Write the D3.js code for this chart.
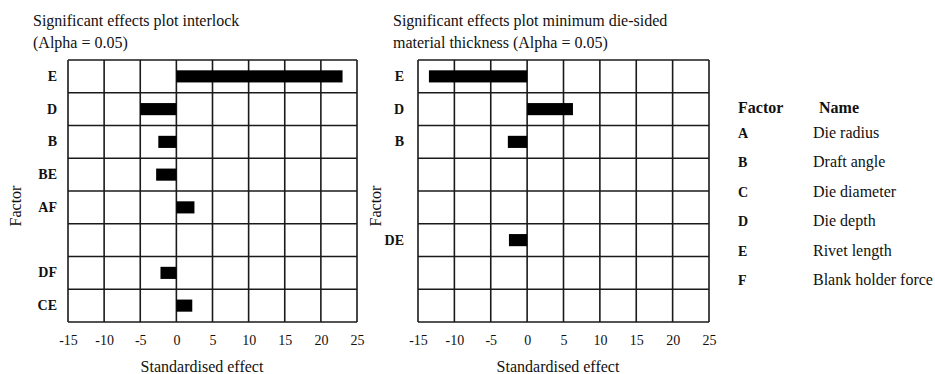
<!DOCTYPE html>
<html><head><meta charset="utf-8">
<script src="https://cdn.jsdelivr.net/npm/d3@7"></script>
<style>
body{margin:0;background:#fff;}
svg text{font-family:"Liberation Serif","Times New Roman",serif;fill:#111;}
</style></head>
<body>
<svg id="c" width="935" height="374"></svg>
<script>
// ---- data ----
const xTicks = [-15, -10, -5, 0, 5, 10, 15, 20, 25];
const leftFactors = ["E", "D", "B", "BE", "AF", "", "DF", "CE"];
const leftEffects = [23, -5.0, -2.5, -2.8, 2.5, null, -2.2, 2.2];
const rightFactors = ["E", "D", "B", "", "", "DE", "", ""];
const rightEffects = [-13.5, 6.3, -2.65, null, null, -2.5, null, null];
const legendCodes = ["A", "B", "C", "D", "E", "F"];
const legendNames = ["Die radius", "Draft angle", "Die diameter", "Die depth", "Rivet length", "Blank holder force"];
const leftTitle = ["Significant effects plot interlock", "(Alpha = 0.05)"];
const rightTitle = ["Significant effects plot minimum die-sided", "material thickness (Alpha = 0.05)"];

const svg = d3.select("#c");
const SERIF = '"Liberation Serif","Times New Roman",serif';

function panel(opts) {
  const {x0, x1, y0, y1, factors, effects, title, titleX, labelGap, factorX, xLabelX} = opts;
  const g = svg.append("g");
  const idx = factors.map((d, i) => i);
  const x = d3.scaleLinear().domain([-15, 25]).range([x0, x1]);
  const rows = d3.scaleBand().domain(idx).range([y0, y1]).padding(0);
  const bars = d3.scaleBand().domain(idx).range([y0, y1]).paddingInner(0.63).paddingOuter(0.315);

  // title
  g.selectAll("text.title").data(title).join("text")
    .attr("x", titleX).attr("y", (d, i) => 26 + i * 22)
    .attr("font-size", 16).text(d => d);

  // horizontal grid lines (row boundaries)
  const bounds = idx.map(i => rows(i)).concat([y1]);
  g.selectAll("line.h").data(bounds).join("line")
    .attr("x1", x0).attr("x2", x1).attr("y1", d => d).attr("y2", d => d)
    .attr("stroke", "#1a1a1a").attr("stroke-width", 1.6);
  // vertical grid lines
  g.selectAll("line.v").data(xTicks).join("line")
    .attr("x1", d => x(d)).attr("x2", d => x(d)).attr("y1", y0).attr("y2", y1)
    .attr("stroke", "#1a1a1a").attr("stroke-width", 1.6);

  // bars
  const data = idx.filter(i => effects[i] !== null).map(i => ({i, v: effects[i]}));
  g.selectAll("rect.bar").data(data).join("rect")
    .attr("x", d => Math.min(x(0), x(d.v)))
    .attr("width", d => Math.abs(x(d.v) - x(0)))
    .attr("y", d => bars(d.i)).attr("height", bars.bandwidth())
    .attr("fill", "#000");

  // x axis labels via d3 axis
  const ax = d3.axisBottom(x).tickValues(xTicks).tickSize(0).tickPadding(13).tickFormat(d => String(d));
  const axg = g.append("g").attr("transform", `translate(0,${y1})`).call(ax);
  axg.select(".domain").remove();
  axg.selectAll("text").attr("font-size", 14).attr("fill", "#333").style("font-family", SERIF);

  // y axis labels via d3 axis
  const ay = d3.axisLeft(rows).tickSize(0).tickPadding(labelGap).tickFormat(i => factors[i]);
  const ayg = g.append("g").attr("transform", `translate(${x0},0)`).call(ay);
  ayg.select(".domain").remove();
  ayg.selectAll("text").attr("font-size", 14).attr("font-weight", "bold").attr("fill", "#111")
    .style("font-family", SERIF);

  // axis titles
  g.append("text").attr("x", xLabelX).attr("y", 372).attr("text-anchor", "middle")
    .attr("font-size", 16).text("Standardised effect");
  g.append("text").attr("transform", `translate(${factorX},${(y0 + y1) / 2 + 15}) rotate(-90)`)
    .attr("text-anchor", "middle").attr("font-size", 16).text("Factor");
}

panel({x0: 68, x1: 357, y0: 60, y1: 322, factors: leftFactors, effects: leftEffects,
  title: leftTitle, titleX: 33, labelGap: 11, factorX: 21, xLabelX: 202});
panel({x0: 418, x1: 709, y0: 60, y1: 322, factors: rightFactors, effects: rightEffects,
  title: rightTitle, titleX: 393, labelGap: 14, factorX: 381, xLabelX: 558});

// legend
const leg = svg.append("g");
leg.append("text").attr("x", 738).attr("y", 113).attr("font-size", 16).attr("font-weight", "bold").text("Factor");
leg.append("text").attr("x", 819).attr("y", 113).attr("font-size", 16).attr("font-weight", "bold").text("Name");
const ly = d3.scalePoint().domain(legendCodes).range([138, 285]);
leg.selectAll("text.code").data(legendCodes).join("text")
  .attr("x", 738).attr("y", d => ly(d)).attr("font-size", 14).attr("font-weight", "bold").text(d => d);
leg.selectAll("text.name").data(legendCodes).join("text")
  .attr("x", 813).attr("y", d => ly(d)).attr("font-size", 16).text((d, i) => legendNames[i]);
</script>
</body></html>
